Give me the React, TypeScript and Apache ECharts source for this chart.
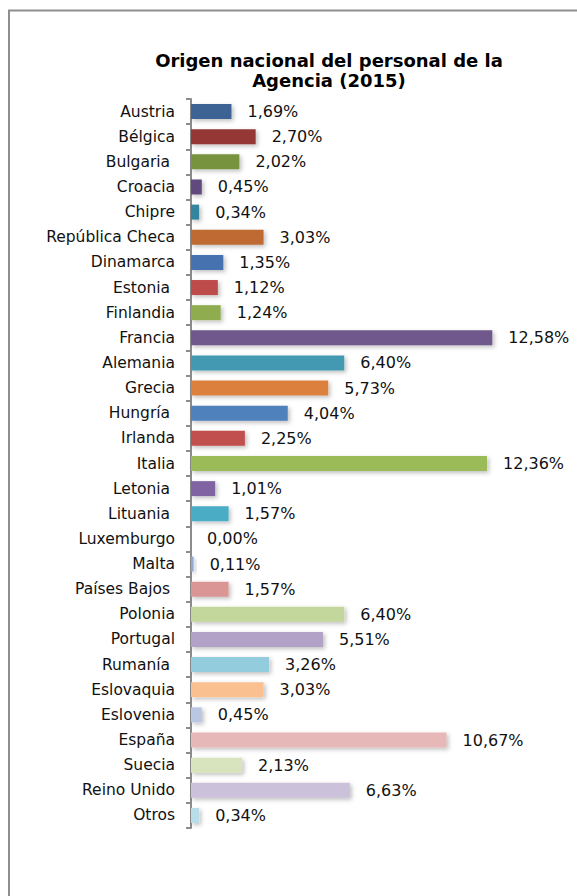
import React, { useEffect, useRef } from "react";
import * as echarts from "echarts";

const categories = [
  "Austria", "Bélgica", "Bulgaria ", "Croacia", "Chipre", "República Checa",
  "Dinamarca", "Estonia ", "Finlandia", "Francia", "Alemania", "Grecia",
  "Hungría ", "Irlanda", "Italia", "Letonia ", "Lituania ", "Luxemburgo",
  "Malta", "Países Bajos ", "Polonia", "Portugal", "Rumanía ", "Eslovaquia",
  "Eslovenia", "España", "Suecia", "Reino Unido", "Otros",
];

const values = [
  1.69, 2.70, 2.02, 0.45, 0.34, 3.03,
  1.35, 1.12, 1.24, 12.58, 6.40, 5.73,
  4.04, 2.25, 12.36, 1.01, 1.57, 0.00,
  0.11, 1.57, 6.40, 5.51, 3.26, 3.03,
  0.45, 10.67, 2.13, 6.63, 0.34,
];

const colors = [
  "#3d6494", "#953735", "#77933c", "#604a7b", "#31859c", "#bf6a30",
  "#4672b0", "#bc4b49", "#8fad50", "#6f588d", "#4399b1", "#dc813c",
  "#4f81bd", "#c0504d", "#9bbb59", "#8064a2", "#4bacc6", "#4bacc6",
  "#93a9d6", "#d99694", "#c3d69b", "#b2a2c7", "#93cddd", "#fac090",
  "#b9c7e3", "#e6b9b8", "#d7e4bd", "#ccc1da", "#b7dee8",
];

const titleText = "Origen nacional del personal de la\nAgencia (2015)";

const FONT = "DejaVu Sans";

export default function App() {
  const ref = useRef<HTMLDivElement>(null);
  useEffect(() => {
    if (!ref.current) return;
    const chart = echarts.init(ref.current, null, { renderer: "svg" });
    chart.setOption({
      animation: false,
      backgroundColor: "#ffffff",
      title: {
        text: titleText,
        left: 324,
        top: 45,
        textAlign: "center",
        textStyle: {
          fontFamily: FONT,
          fontSize: 18,
          fontWeight: "bold",
          color: "#000000",
          lineHeight: 20,
        },
      },
      graphic: [
        {
          type: "rect",
          shape: { x: 9, y: 10.5, width: 800, height: 1200 },
          style: { fill: "none", stroke: "#8e8e8e", lineWidth: 2 },
          silent: true,
        },
      ],
      grid: { left: 191, top: 99, height: 729, width: 335.3 },
      xAxis: {
        type: "value",
        min: 0,
        max: 14,
        show: false,
        splitLine: { show: false },
      },
      yAxis: {
        type: "category",
        data: categories,
        inverse: true,
        axisLine: { show: true, lineStyle: { color: "#8c8c8c", width: 2 } },
        axisTick: { show: true, length: 5, lineStyle: { color: "#8c8c8c", width: 2 } },
        axisLabel: {
          fontFamily: FONT,
          fontSize: 15.5,
          color: "#111111",
          margin: 16,
        },
      },
      series: [
        {
          type: "bar",
          barWidth: 15,
          data: values.map((v, i) => ({
            value: v,
            itemStyle: {
              color: colors[i],
              shadowBlur: 4,
              shadowOffsetX: 2,
              shadowOffsetY: 2,
              shadowColor: "rgba(0,0,0,0.25)",
            },
          })),
          label: {
            show: true,
            position: "right",
            distance: 16,
            fontFamily: FONT,
            fontSize: 16,
            color: "#111111",
            formatter: (p: any) => p.value.toFixed(2).replace(".", ",") + "%",
          },
        },
      ],
    });
    return () => chart.dispose();
  }, []);
  return (
    <div
      ref={ref}
      style={{ position: "fixed", left: 0, top: 0, width: 577, height: 896 }}
    />
  );
}
